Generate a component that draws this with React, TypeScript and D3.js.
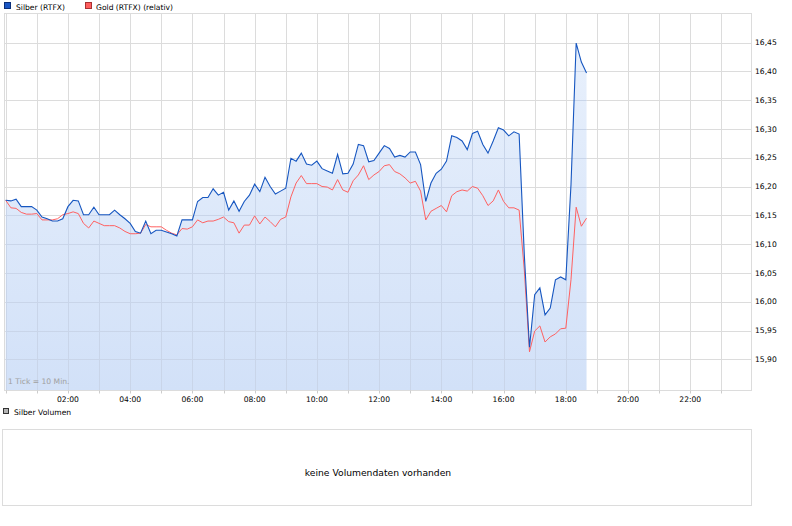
import * as d3 from "d3";
import React from "react";

// Silber (RTFX), 10-minute ticks from 00:00
const silver = [
  16.176, 16.175, 16.178, 16.165, 16.165, 16.165, 16.159, 16.147, 16.144, 16.14,
  16.14, 16.144, 16.165, 16.176, 16.175, 16.151, 16.151, 16.164, 16.151, 16.151,
  16.151, 16.159, 16.151, 16.144, 16.136, 16.122, 16.119, 16.14, 16.118, 16.124,
  16.124, 16.121, 16.118, 16.114, 16.142, 16.142, 16.142, 16.174, 16.181, 16.181,
  16.196, 16.185, 16.19, 16.159, 16.175, 16.157, 16.174, 16.185, 16.204, 16.191,
  16.216, 16.2, 16.187, 16.192, 16.197, 16.249, 16.244, 16.258, 16.239, 16.237,
  16.244, 16.231, 16.227, 16.223, 16.256, 16.222, 16.223, 16.239, 16.273, 16.271,
  16.243, 16.245, 16.258, 16.271, 16.266, 16.251, 16.254, 16.251, 16.26, 16.26,
  16.238, 16.174, 16.206, 16.223, 16.23, 16.244, 16.288, 16.285, 16.279, 16.264,
  16.292, 16.296, 16.273, 16.258, 16.279, 16.302, 16.298, 16.288, 16.295, 16.291,
  16.081, 15.921, 16.012, 16.024, 15.977, 15.989, 16.038, 16.043, 16.038, 16.203,
  16.449, 16.416, 16.397,
];

// Gold (RTFX) (relativ)
const gold = [
  16.176, 16.163, 16.162, 16.155, 16.152, 16.152, 16.153, 16.142, 16.142, 16.142,
  16.144, 16.151, 16.153, 16.156, 16.153, 16.136, 16.128, 16.14, 16.136, 16.132,
  16.132, 16.132, 16.128, 16.122, 16.118, 16.118, 16.119, 16.134, 16.13, 16.13,
  16.13, 16.124, 16.119, 16.116, 16.127, 16.126, 16.13, 16.142, 16.137, 16.14,
  16.14, 16.143, 16.147, 16.139, 16.137, 16.119, 16.133, 16.133, 16.149, 16.135,
  16.147, 16.139, 16.13, 16.143, 16.147, 16.182, 16.206, 16.219, 16.205, 16.205,
  16.205, 16.2, 16.199, 16.194, 16.212, 16.194, 16.19, 16.21, 16.22, 16.236,
  16.212, 16.22, 16.226, 16.236, 16.238, 16.226, 16.222, 16.215, 16.206, 16.209,
  16.192, 16.142, 16.157, 16.162, 16.167, 16.156, 16.184, 16.191, 16.194, 16.192,
  16.2, 16.197, 16.184, 16.167, 16.175, 16.194, 16.174, 16.163, 16.163, 16.159,
  16.055, 15.913, 15.949, 15.958, 15.93, 15.939, 15.944, 15.953, 15.954, 16.038,
  16.164, 16.131, 16.145,
];

const yTicks = [15.9, 15.95, 16.0, 16.05, 16.1, 16.15, 16.2, 16.25, 16.3, 16.35, 16.4, 16.45];
const xLabels = ["02:00", "04:00", "06:00", "08:00", "10:00", "12:00", "14:00", "16:00", "18:00", "20:00", "22:00"];

const FONT = "'DejaVu Sans', Verdana, sans-serif";

const App = () => {
  const W = 792, H = 526;
  const left = 4.5, right = 751.5, top = 13.5, bottom = 390.5;

  const x = d3.scaleLinear().domain([0, 24]).range([5.7, 752.5]);
  const y = d3.scaleLinear().domain([15.9, 16.45]).range([359.3, 42.5]);

  const hour = (i: number) => i / 6; // 1 Tick = 10 Min.

  const line = d3
    .line<number>()
    .x((_, i) => x(hour(i)))
    .y((d) => y(d));

  const area = d3
    .area<number>()
    .x((_, i) => x(hour(i)))
    .y0(bottom)
    .y1((d) => y(d));

  const hours = d3.range(0, 24);
  const areaPath = area(silver) || "";
  const px = (v: number) => Math.round(v) + 0.5;

  return (
    <svg
      width={W}
      height={H}
      style={{ position: "absolute", left: 0, top: 0, background: "#fff" }}
      fontFamily={FONT}
    >
      <defs>
        <linearGradient id="fillGrad" x1="0" y1="0" x2="0" y2="1">
          <stop offset="0" stopColor="#e8f0fc" />
          <stop offset="1" stopColor="#d2e1f8" />
        </linearGradient>
        <clipPath id="areaClip">
          <path d={areaPath} />
        </clipPath>
      </defs>

      {/* legend */}
      <rect x={4.5} y={2.5} width={6} height={6} fill="#1a56c4" stroke="#0b2f78" />
      <text x={16} y={9.5} fontSize={7.6} fill="#000">Silber (RTFX)</text>
      <rect x={85.5} y={2.5} width={6} height={6} fill="#ff5e5e" stroke="#a83232" />
      <text x={96} y={9.5} fontSize={7.6} fill="#000">Gold (RTFX) (relativ)</text>

      {/* grid */}
      <g stroke="#dcdcdc" strokeWidth={1}>
        {hours.map((h) => (
          <line key={"v" + h} x1={px(x(h))} x2={px(x(h))} y1={top} y2={bottom} />
        ))}
        {yTicks.map((t) => (
          <line key={"h" + t} x1={left} x2={right} y1={px(y(t))} y2={px(y(t))} />
        ))}
      </g>

      {/* area under silver */}
      <path d={areaPath} fill="url(#fillGrad)" />
      <g stroke="#c9d5e9" strokeWidth={1} clipPath="url(#areaClip)">
        {hours.map((h) => (
          <line key={"cv" + h} x1={px(x(h))} x2={px(x(h))} y1={top} y2={bottom} />
        ))}
        {yTicks.map((t) => (
          <line key={"ch" + t} x1={left} x2={right} y1={px(y(t))} y2={px(y(t))} />
        ))}
      </g>

      {/* frame */}
      <rect x={left} y={top} width={right - left} height={bottom - top} fill="none" stroke="#dcdcdc" />

      {/* series */}
      <path d={line(gold) || ""} fill="none" stroke="#ff6161" strokeWidth={1} />
      <path d={line(silver) || ""} fill="none" stroke="#1656c0" strokeWidth={1.1} />

      <text x={8} y={384} fontSize={7.6} fill="#a0a0a0">1 Tick = 10 Min.</text>

      {/* y labels */}
      {yTicks.map((t) => (
        <text key={"yl" + t} x={755} y={y(t)} dy="0.35em" fontSize={7.6} fill="#000">
          {d3.format(".2f")(t).replace(".", ",")}
        </text>
      ))}

      {/* x ticks + labels */}
      <g stroke="#cccccc">
        {hours.map((h) => (
          <line key={"t" + h} x1={px(x(h))} x2={px(x(h))} y1={bottom} y2={bottom + 3} />
        ))}
      </g>
      {xLabels.map((l) => {
        const h = +l.slice(0, 2);
        return (
          <text key={l} x={x(h)} y={402} textAnchor="middle" fontSize={7.6} fill="#000">
            {l}
          </text>
        );
      })}

      {/* volume panel */}
      <rect x={3.5} y={408.5} width={5} height={5} fill="#b4b4b4" stroke="#333" />
      <text x={14} y={414.5} fontSize={7.6} fill="#000">Silber Volumen</text>
      <rect x={2.5} y={429.5} width={749} height={76} fill="none" stroke="#dcdcdc" />
      <text x={378} y={475.5} textAnchor="middle" fontSize={9.2} fill="#000">
        keine Volumendaten vorhanden
      </text>
    </svg>
  );
};

export default App;
